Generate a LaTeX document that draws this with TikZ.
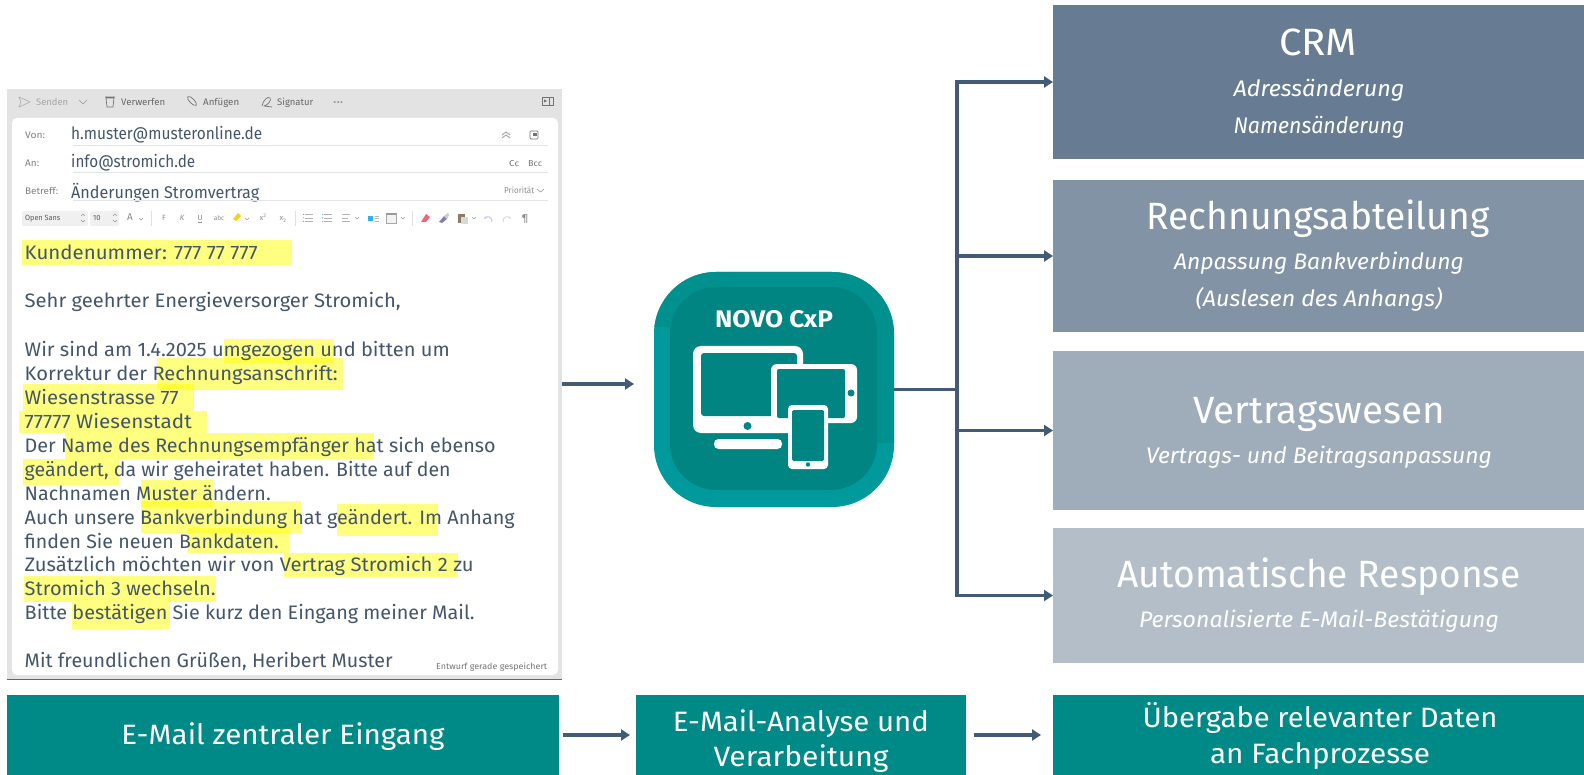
\documentclass[tikz,border=0pt]{standalone}
\usepackage{fontspec}
\setmainfont{Fira Sans}[UprightFont=* Light,ItalicFont=* Light Italic,BoldFont=* Medium]
\newfontfamily\regfont{Fira Sans}
\usetikzlibrary{arrows.meta,fit,calc}
\definecolor{inkblue}{HTML}{44566C}
\definecolor{arrowblue}{HTML}{425B76}
\definecolor{tealbar}{HTML}{008A87}
\definecolor{tealdark}{HTML}{00918E}
\definecolor{teallight}{HTML}{009A9C}
\definecolor{tealin}{HTML}{008583}
\definecolor{boxa}{HTML}{677C92}
\definecolor{boxb}{HTML}{8193A5}
\definecolor{boxc}{HTML}{9FACBA}
\definecolor{boxd}{HTML}{B3BEC9}
\definecolor{uigrey}{HTML}{E3E3E3}
\definecolor{uirule}{HTML}{E2E4E6}
\definecolor{marker}{HTML}{FFFF00}
\newcommand{\fs}[1]{\fontsize{#1}{#1}\selectfont}
\newcommand{\fitw}[2]{\resizebox{#1pt}{\height}{#2}}
\newcommand{\hl}[4]{\fill[marker,opacity=.5] (#1,#2) rectangle (#3,#4);}
\newcommand{\bodyline}[3]{\node[bodytxt] at (24.5,#1) {\fitw{#2}{#3}};}
\tikzset{
  x=1pt,y=-1pt,
  area/.style={inner sep=0pt,outer sep=0pt,draw=none},
  linkline/.style={draw=arrowblue,line width=3.2pt},
  linkarrow/.style={linkline,-{Triangle[length=9pt,width=11pt]}},
  bodytxt/.style={inner sep=0pt,anchor=base west,text=inkblue,font=\regfont\fs{19.5}},
  valtxt/.style={inner sep=0pt,anchor=base west,text=inkblue,font=\regfont\fs{17}},
  title/.style={inner sep=0pt,anchor=base,text=white,font=\regfont\fs{38}},
  subtitle/.style={inner sep=0pt,anchor=base,text=white,font=\regfont\itshape\fs{22.5}},
  bartxt/.style={inner sep=0pt,anchor=base,text=white,font=\regfont\fs{28}},
  uilabel/.style={inner sep=0pt,anchor=base west,text=#1,font=\regfont\fs{9.5}},
  uilabel/.default=black!60,
  uitiny/.style={inner sep=0pt,anchor=base,text=black!45,font=\regfont\fs{7.5}},
  uiicon/.style={draw=black!55,line width=.7pt,line join=round},
  uifaint/.style={draw=black!30,line width=.7pt,line join=round},
  chev/.style={draw=black!40,line width=.6pt},
}
\begin{document}
\begin{tikzpicture}
\useasboundingbox (0,0) rectangle (1584,775);
\fill[white] (0,0) rectangle (1584,775);

% ---------- e-mail window
\node[area,fill=uigrey,fit={(7,89)(562,679)}] (mail) {};
\draw[black!60,line width=.8pt] (7,679) -- (562,679);
\fill[white,rounded corners=5pt] (12,118) rectangle (558,675);

% toolbar
\draw[uifaint] (19,97) -- (30,102) -- (19,107) -- (21,102) -- cycle;
\node[uilabel=black!35,anchor=base west] at (36,105.5) {\fitw{32}{Senden}};
\draw[chev] (79,100) -- (83,104) -- (87,100);
\draw[uiicon] (106,98) -- (114,98) -- (113,107) -- (107,107) -- cycle (105,97) -- (115,97);
\node[uilabel] at (121,105.5) {\fitw{44}{Verwerfen}};
\draw[uiicon,rotate around={-45:(192,101)}] (192,101) ellipse (6pt and 2.2pt);
\node[uilabel] at (203,105.5) {\fitw{36}{Anfügen}};
\draw[uiicon] (262,106) .. controls (263,100) and (268,96) .. (270,98) .. controls (272,100) and (268,105) .. (264,106) -- (272,107);
\node[uilabel] at (277,105.5) {\fitw{36}{Signatur}};
\node[uilabel] at (333,105.5) {\fitw{10}{···}};
\draw[uiicon] (542,97) rectangle (553,105) (549,97) -- (549,105);
\fill[black!55] (544,99.5) -- (547,101) -- (544,102.5) -- cycle;

% header fields
\node[uilabel=black!50] at (25,139) {\fitw{20}{Von:}};
\node[uilabel=black!50] at (25,167) {\fitw{14}{An:}};
\node[uilabel=black!50] at (25,195) {\fitw{33}{Betreff:}};
\node[valtxt] at (71,140) {\fitw{191}{h.muster@musteronline.de}};
\node[valtxt] at (71,168) {\fitw{124}{info@stromich.de}};
\node[valtxt] at (71,199) {\fitw{188}{Änderungen Stromvertrag}};
\draw[uirule,line width=.8pt] (73,145) -- (548,145) (73,172) -- (548,172) (73,200) -- (548,200);
\draw[chev,line width=.8pt] (502,135) -- (506,132) -- (510,135) (502,138) -- (506,135) -- (510,138);
\draw[uiicon,rounded corners=1pt] (530,131) rectangle (538,139);
\fill[black!55] (533,133) rectangle (537,136);
\node[uilabel=black!55,font=\regfont\fs{8.5}] at (509,167) {\fitw{10}{Cc}};
\node[uilabel=black!55,font=\regfont\fs{8.5}] at (528,167) {\fitw{14}{Bcc}};
\node[uilabel=black!45,font=\regfont\fs{8.5}] at (504,193.5) {\fitw{30}{Priorität}};
\draw[chev] (537,189) -- (540.5,192) -- (544,189);

% format bar
\fill[black!6,rounded corners=2pt] (22,211) rectangle (88,226);
\fill[black!6,rounded corners=2pt] (90,211) rectangle (119,226);
\node[uilabel=black!65,font=\regfont\fs{7.5}] at (25,221) {\fitw{35}{Open Sans}};
\node[uilabel=black!65,font=\regfont\fs{7.5}] at (93,221) {10};
\draw[chev] (81,216) -- (83,214) -- (85,216) (81,220) -- (83,222) -- (85,220);
\draw[chev] (113,216) -- (115,214) -- (117,216) (113,220) -- (115,222) -- (117,220);
\node[uitiny,font=\regfont\fs{10}] at (130,221) {A};
\draw[chev] (139,218) -- (141,220) -- (143,218);
\draw[black!12,line width=.7pt] (151,211) -- (151,226) (295,211) -- (295,226) (412,211) -- (412,226);
\node[uitiny] at (164,221) {F};
\node[uitiny,font=\regfont\itshape\fs{7.5}] at (182,221) {K};
\node[uitiny] at (200,221) {\underline{U}};
\node[uitiny,font=\regfont\fs{6.5}] at (219,221) {abc};
\fill[yellow!70!orange] (233,219) -- (238,213) -- (241,216) -- (236,221) -- cycle;
\draw[chev] (245,218) -- (247,220) -- (249,218);
\node[uitiny] at (263,221) {x\textsuperscript{2}};
\node[uitiny] at (283,221) {x\textsubscript{2}};
\draw[black!30,line width=.6pt] (305,214.5) -- (313,214.5) (305,218) -- (313,218) (305,221.5) -- (313,221.5);
\draw[black!30,line width=.6pt] (324,214.5) -- (332,214.5) (324,218) -- (332,218) (324,221.5) -- (332,221.5);
\fill[blue!40!cyan!70] (303,214) rectangle (304.2,215) (303,217.5) rectangle (304.2,218.5) (303,221) rectangle (304.2,222);
\fill[blue!40!cyan!70] (322,214) rectangle (323.2,215) (322,217.5) rectangle (323.2,218.5) (322,221) rectangle (323.2,222);
\draw[black!30,line width=.6pt] (342,214.5) -- (350,214.5) (342,218) -- (348,218) (342,221.5) -- (350,221.5);
\draw[chev] (355,217) -- (357,219) -- (359,217);
\fill[blue!40!cyan!80] (368,216) rectangle (373,221);
\draw[black!30,line width=.6pt] (375,216) -- (379,216) (375,218.5) -- (379,218.5) (375,221) -- (379,221);
\draw[black!35,line width=.6pt,fill=black!5] (386,213) rectangle (396,223);
\fill[black!40] (386,213) rectangle (396,215.5);
\draw[chev] (401,217) -- (403,219) -- (405,217);
\fill[red!45!purple!60] (421,222) -- (426,214) -- (430,217) -- (426,222) -- cycle;
\fill[blue!40!black!50] (439,222) -- (444,216) -- (447,219) -- (442,223) -- cycle;
\fill[black!20] (444,216) -- (448,213) -- (449,215) -- (447,219) -- cycle;
\fill[brown!50!black!70] (458,214) rectangle (465,223);
\fill[black!15] (461,217) rectangle (468,224);
\draw[chev] (472,217) -- (474,219) -- (476,217);
\draw[blue!25,line width=.9pt,-{Stealth[length=3pt]}] (492,222) .. controls (492,216) and (487,216) .. (484,219);
\draw[black!15,line width=.9pt,-{Stealth[length=3pt]}] (503,222) .. controls (503,216) and (508,216) .. (511,219);
\node[uitiny,font=\regfont\fs{10}] at (525,221.5) {¶};

% highlights
\hl{22}{240}{292}{265}
\hl{224}{339}{334}{363}
\hl{157}{358}{343}{390}
\hl{23}{384}{194}{411}
\hl{19}{411}{207}{433}
\hl{65}{433}{374}{459}
\hl{23}{459}{119}{485}
\hl{141}{480}{213}{507}
\hl{141}{501}{301}{533}
\hl{337}{504}{438}{536}
\hl{188}{528}{289}{553}
\hl{284}{553}{458}{577}
\hl{24}{576}{216}{602}
\hl{72}{602}{170}{629}

% body
\bodyline{260}{233}{Kundenummer: 777 77 777}
\bodyline{308}{376}{Sehr geehrter Energieversorger Stromich,}
\bodyline{356}{425}{Wir sind am 1.4.2025 umgezogen und bitten um}
\bodyline{380}{313}{Korrektur der Rechnungsanschrift:}
\bodyline{404}{154}{Wiesenstrasse 77}
\bodyline{428}{167}{77777 Wiesenstadt}
\bodyline{452}{471}{Der Name des Rechnungsempfänger hat sich ebenso}
\bodyline{476}{426}{geändert, da wir geheiratet haben. Bitte auf den}
\bodyline{500}{246}{Nachnamen Muster ändern.}
\bodyline{524}{490}{Auch unsere Bankverbindung hat geändert. Im Anhang}
\bodyline{548}{254}{finden Sie neuen Bankdaten.}
\bodyline{571}{449}{Zusätzlich möchten wir von Vertrag Stromich 2 zu}
\bodyline{595}{191}{Stromich 3 wechseln.}
\bodyline{619}{450}{Bitte bestätigen Sie kurz den Eingang meiner Mail.}
\bodyline{667.5}{368}{Mit freundlichen Grüßen, Heribert Muster}
\node[uilabel=black!55,font=\regfont\fs{8.5}] at (436,669) {\fitw{111}{Entwurf gerade gespeichert}};

% ---------- NOVO CxP tile
\fill[teallight,rounded corners=62pt] (654,272) rectangle (894,507);
\begin{scope}
  \clip (650,268) -- (900,268) -- (900,443) -- (670,443) -- (670,327) -- (650,327) -- cycle;
  \fill[tealdark,rounded corners=62pt] (654,272) rectangle (894,507);
\end{scope}
\node[area,fit={(654,272)(894,507)}] (novo) {};
\fill[tealin,rounded corners=46pt] (670,287) rectangle (877,490);
\node[inner sep=0pt,anchor=base,text=white,font=\regfont\bfseries\fs{24}] (novotext) at (774,327.5) {\fitw{118}{NOVO CxP}};
% monitor
\fill[white,rounded corners=8pt] (693,346) rectangle (803,433);
\fill[tealin,rounded corners=3pt] (701,353) rectangle (797,416);
\fill[tealin] (747.5,426) circle (4pt);
\fill[white,rounded corners=4.5pt] (714,439) rectangle (782,449);
% tablet
\fill[white,rounded corners=6pt] (771,364) rectangle (857,423);
\fill[tealin,rounded corners=2pt] (777,369) rectangle (845,418);
\fill[tealin] (851,393) circle (3.5pt);
% phone
\fill[white,rounded corners=4pt] (788,405) rectangle (828,469);
\fill[tealin,rounded corners=1.5pt] (792,410) rectangle (824,461);
\fill[tealin] (808,464.5) circle (2.2pt);

% ---------- department boxes
\node[area,fill=boxa,fit={(1053,5)(1584,159)}] (crm) {};
\node[area,fill=boxb,fit={(1053,180)(1584,332)}] (rech) {};
\node[area,fill=boxc,fit={(1053,351)(1584,510)}] (vert) {};
\node[area,fill=boxd,fit={(1053,528)(1584,663)}] (auto) {};
\node[title] at (1318,55.5) {\fitw{78}{CRM}};
\node[subtitle] at (1319,97) {\fitw{171}{Adressänderung}};
\node[subtitle] at (1319,134) {\fitw{171}{Namensänderung}};
\node[title] at (1318,230) {\fitw{343}{Rechnungsabteilung}};
\node[subtitle] at (1319,270) {\fitw{290}{Anpassung Bankverbindung}};
\node[subtitle] at (1319,307) {\fitw{247}{(Auslesen des Anhangs)}};
\node[title] at (1319,423) {\fitw{252}{Vertragswesen}};
\node[subtitle] at (1319,463.5) {\fitw{346}{Vertrags- und Beitragsanpassung}};
\node[title] at (1319,587) {\fitw{403}{Automatische Response}};
\node[subtitle] at (1319,627) {\fitw{360}{Personalisierte E-Mail-Bestätigung}};

% ---------- process bar
\node[area,fill=tealbar,fit={(7,695)(559,775)}] (bara) {};
\node[area,fill=tealbar,fit={(636,695)(966,775)}] (barb) {};
\node[area,fill=tealbar,fit={(1053,695)(1584,775)}] (barc) {};
\node[bartxt] at (283,744) {\fitw{323}{E-Mail zentraler Eingang}};
\node[bartxt] at (801,731.5) {\fitw{256}{E-Mail-Analyse und}};
\node[bartxt] at (801,766.5) {\fitw{175}{Verarbeitung}};
\node[bartxt] at (1320,727) {\fitw{355}{Übergabe relevanter Daten}};
\node[bartxt] at (1320,763) {\fitw{220}{an Fachprozesse}};

% ---------- connectors
\coordinate (mailout) at (mail.east |- 0,384);
\coordinate (novoin) at (634,384);
\coordinate (trunkx) at (957,0);
\coordinate (j1) at (trunkx |- crm.west);
\coordinate (j2) at (trunkx |- rech.west);
\coordinate (j3) at (trunkx |- vert.west);
\coordinate (j4) at (trunkx |- auto.west);
\draw[linkarrow] (mailout) -- (novoin);
\draw[linkline] (novo.east) -- (trunkx |- novo.east);
\draw[linkline,line cap=rect] (j1) -- (j4);
\draw[linkarrow] (j1) -- (crm.west);
\draw[linkarrow] (j2) -- (rech.west);
\draw[linkarrow] (j3) -- (vert.west);
\draw[linkarrow] (j4) -- (auto.west);
\draw[linkarrow,shorten <=4pt,shorten >=6pt] (bara.east) -- (barb.west);
\draw[linkarrow,shorten <=8pt,shorten >=12pt] (barb.east) -- (barc.west);
\end{tikzpicture}
\end{document}
